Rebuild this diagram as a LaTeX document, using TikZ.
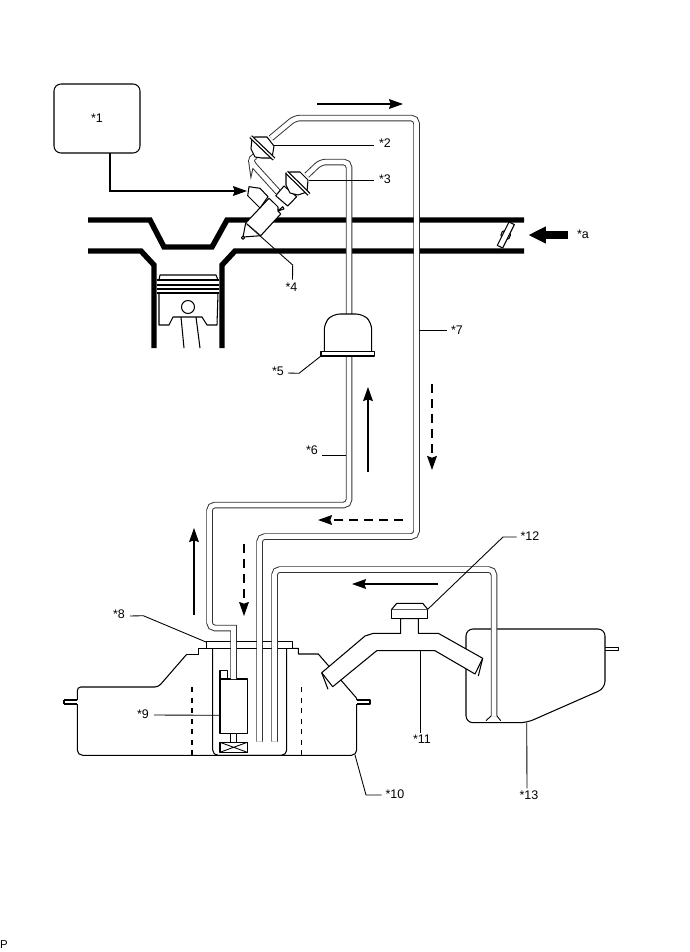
\documentclass[tikz,border=0pt]{standalone}
\usepackage{fontspec}
\setmainfont{Liberation Sans}
\usetikzlibrary{arrows.meta}

\tikzset{
  part/.style={draw=black, fill=white, line width=0.6pt, line join=round},
  plain/.style={draw=black, line width=0.6pt, line join=round},
  wall/.style={draw=black, line width=3.1pt},
  pipe/.style={draw=black!80, line width=0.55pt, double=white, double distance=2.6pt},
  rim/.style={draw=black, line width=0.7pt, double=white, double distance=0.8pt},
  leader/.style={draw=black, line width=0.5pt},
  flow/.style={draw=black, line width=0.7pt, -{Stealth[length=8pt,width=5.6pt,inset=1pt]}},
  flowback/.style={flow, dash pattern=on 5pt off 3.5pt},
  label/.style={font=\fontsize{7.1}{8}\selectfont, inner sep=1pt}
}

\begin{document}
\begin{tikzpicture}[x=0.2mm, y=-0.2mm]
    \useasboundingbox (0,0) rectangle (690,952);

    % intake and cylinder
    \draw[wall] (88,220) to (150,220) to (164,247) to (212,247) to (227,220) to (524,220);
    \draw[wall] (88,251) to (141,251) to (154,265) to (154,348);
    \draw[wall] (524,251) to (235,251) to (222,265) to (222,348);

    % piston
    \draw[plain] (159,280) to (160,275) to (216,275) to (218,280);
    \draw[plain] (159,293) to (159,325) to (169,325) to (173,317) to (202,317) to (207,325) to (217,325) to (218,293);
    \foreach \ringy in {280,285,289,293}
        \draw[plain] (157,\ringy) to (219,\ringy);
    \draw[plain] (188,307) circle (6.5);
    \draw[plain] (181,317) to (184,348);
    \draw[plain] (196,317) to (200,348);

    % throttle
    \draw[plain] (505.7,235) circle (4.8);
    \draw[part] (514.4,224.6) to (509,222) to (497.3,245.4) to (502.7,248) -- cycle;

    % main tank
    \draw[part, rounded corners=3pt] (77.3,704) to (77.3,755.3) to (356.7,755.3) to (356.7,704);
    \draw[plain, rounded corners=2pt] (77.3,700) to (77.3,687) to (158.3,687) to (186.7,654.3);
    \draw[plain] (186.7,654.3) to (198.3,654.3) to (198.3,648.3) to (206.7,648.3);
    \draw[plain] (292.7,648.3) to (298.3,648.3) to (298.3,654) to (318.3,654) to (356.7,698.3) to (356.7,700);
    \draw[plain] (64,700) to (77.3,700) (64,704) to (77.3,704) (64,700) to (64,704);
    \draw[plain] (356.7,700) to (370,700) to (370,704) to (356.7,704);
    \draw[part] (206.7,641.7) rectangle (292.7,648.3);
    \draw[plain, rounded corners=3pt] (212.7,648.3) to (212.7,755.3) to (286.7,755.3) to (286.7,648.3);
    \draw[plain, dashed] (192,687) to (192,755);
    \draw[plain, dashed] (301.3,687) to (301.3,755);

    % pump
    \draw[part] (220,670.7) rectangle (227.7,679);
    \draw[part] (220,679) rectangle (247.3,733.3);
    \draw[part] (230.7,733.3) rectangle (236.7,742.3);
    \draw[part] (220,742.3) rectangle (247.3,752.3);
    \draw[leader] (220,742.3) to (247.3,752.3) (220,752.3) to (247.3,742.3);

    % sub tank
    \draw[part, rounded corners=4pt] (466,629) to (605,629) to (605,688.3) to (526.7,722.7) to (466,722.7) -- cycle;
    \draw[plain] (605,647.3) to (618.3,647.3) to (618.3,650.7) to (605,650.7);

    % filler neck and cap
    \draw[part] (321.7,672.7) to (365,636) to (373.3,633.3) to (400.7,633.3) to (400.7,618.7)
        to (418.3,618.7) to (418.3,633.3) to (438.3,633.3) to (482.7,658.3) to (475,674)
        to (435,650.7) to (376.7,650.7) to (332.7,686.7) -- cycle;
    \draw[plain] (321.7,672.7) to (328,689.3);
    \draw[plain] (482.7,658.3) to (478.3,676);
    \draw[part] (391.7,609.3) rectangle (427.7,618.7);
    \draw[part] (391.7,609.3) to (396.7,603.3) to (422.7,603.3) to (427.7,609.3);

    % pipes
    \draw[pipe, rounded corners=3pt] (349,340) to (349,505) to (209.5,505) to (209.5,628)
        [sharp corners] to (233.5,628) to (233.5,679);
    \draw[pipe, rounded corners=3pt] (271,138) to (295,118) to (416.5,118) to (416.5,536.5) to (259.5,536.5) to (259.5,741.7);
    \draw[pipe, rounded corners=3pt] (274.5,741.7) to (274.5,569.5) to (494,569.5) to (494,716);
    \draw[leader] (491,716) to (486,720.7) (497,716) to (500.7,720.7);
    \draw[pipe, rounded corners=3pt] (306.7,175.3) to (320.7,162) to (349,162) to (349,320);
    \draw[pipe, rounded corners=2pt] (256,156) to (251,158) to (251.7,163) to (278,192);

    % filter
    \draw[part, rounded corners=4pt] (324.3,352) to (324.3,322.7) to (333,314) to (363,314) to (371.7,322.7) to (371.7,352);
    \draw[part] (321,351.7) rectangle (374.3,356);

    % injector
    \draw[part] (245.7,223) to (269,198.3) to (273.3,202.3) to (278,207) to (278,211) to (282.7,206.7) to (284,209)
        to (278,211) to (280.7,214) to (260.7,235.7) -- cycle;
    \draw[part] (245.7,223) to (243,237) to (260.7,235.7);
    \draw[part] (243,237.7) circle (1.6);
    \draw[part] (249,186.7) to (260,188.3) to (268,196.7) to (260,208) to (247.7,195.7) -- cycle;
    \draw[part] (275.7,195.7) to (284,186) to (296.7,196.7) to (287.7,206) -- cycle;

    % regulators
    \draw[part] (255,137) to (267,137) to (274,146) to (272,158) to (262,158) to (255,157) to (251,149) to (252,138) -- cycle;
    \draw[rim] (250.7,136.7) to (274,159);
    \draw[part] (290,172) to (300,172) to (308,180) to (307,192) to (298,195) to (290,193) to (286,185) to (286,173) -- cycle;
    \draw[rim] (286.7,172.3) to (309,194.3);

    % ecu and signal
    \node[draw=black, line width=0.6pt, fill=white, rounded corners=4pt, minimum width=17.2mm, minimum height=13.8mm,
        font=\fontsize{7.1}{8}\selectfont] (A1) at (97,118.5) {*1};
    \coordinate (W1) at (110,153);
    \coordinate (W2) at (110,191);
    \coordinate (W3) at (247,191);
    \draw[flow] (W1) to (W2) to (W3);

    % flow arrows
    \coordinate (F1) at (317,104);  \coordinate (F2) at (403,104);
    \coordinate (F3) at (194,615);  \coordinate (F4) at (194,528);
    \coordinate (F5) at (368,472);  \coordinate (F6) at (368,387);
    \coordinate (F7) at (438,584);  \coordinate (F8) at (352,584);
    \coordinate (F9) at (432,384);  \coordinate (F10) at (432,470);
    \coordinate (F11) at (403,520); \coordinate (F12) at (318,520);
    \coordinate (F13) at (244,544); \coordinate (F14) at (244,616);
    \draw[flow] (F1) to (F2);
    \draw[flow] (F3) to (F4);
    \draw[flow] (F5) to (F6);
    \draw[flow] (F7) to (F8);
    \draw[flowback] (F9) to (F10);
    \draw[flowback] (F11) to (F12);
    \draw[flowback] (F13) to (F14);

    % air arrow
    \coordinate (Aa) at (567.7,235);
    \coordinate (Ab) at (528.3,235);
    \draw[draw=black, line width=4.3pt, -{Triangle[length=10pt,width=9pt]}] (Aa) to (Ab);
    \node[label] (Ta) at (583,234) {*a};

    % labels and leaders
    \node[label] (T2) at (385,143) {*2};
    \coordinate (L2) at (273,145);
    \draw[leader] (T2.west) ++(-3,2) to (L2);
    \node[label] (T3) at (385,179) {*3};
    \coordinate (L3) at (309,180);
    \draw[leader] (T3.west) ++(-3,1) to (L3);
    \node[label] (T4) at (291.5,287) {*4};
    \coordinate (C4) at (292.7,265);
    \coordinate (L4) at (246.7,224);
    \draw[leader] (T4.north) ++(1,-1) to (C4) to (L4);
    \node[label] (T5) at (278,371) {*5};
    \coordinate (C5) at (299,373.3);
    \coordinate (L5) at (321,356);
    \draw[leader] (T5.east) ++(2,2) to (C5) to (L5);
    \node[label] (T6) at (312,450) {*6};
    \coordinate (L6) at (346,455);
    \draw[leader] (T6.east) ++(2,5) to (L6);
    \node[label] (T7) at (457,330) {*7};
    \coordinate (L7) at (419,330);
    \draw[leader] (T7.west) ++(-2,0) to (L7);
    \node[label] (T8) at (119,614) {*8};
    \coordinate (C8) at (143.3,615.7);
    \coordinate (L8) at (206.7,642.3);
    \draw[leader] (T8.east) ++(3,2) to (C8) to (L8);
    \node[label] (T9) at (143,714) {*9};
    \coordinate (L9) at (220,715.3);
    \draw[leader] (T9.east) ++(3,1) to (L9);
    \node[label] (T10) at (395,794) {*10};
    \coordinate (C10) at (366,795);
    \coordinate (L10) at (355,755);
    \draw[leader] (T10.west) ++(-2,1) to (C10) to (L10);
    \node[label] (T11) at (422,739) {*11};
    \coordinate (L11) at (420,650.7);
    \draw[leader] (T11.north) ++(-2,0) to (L11);
    \node[label] (T12) at (530,536) {*12};
    \coordinate (C12) at (503,537);
    \coordinate (L12) at (427.7,609.3);
    \draw[leader] (T12.west) ++(-2,1) to (C12) to (L12);
    \node[label] (T13) at (529,795) {*13};
    \coordinate (L13) at (526.7,722.7);
    \draw[leader] (T13.north) ++(-2,0) to (L13);

    \node[label, font=\fontsize{6.5}{7}\selectfont] (P1) at (4,945) {P};
\end{tikzpicture}
\end{document}
